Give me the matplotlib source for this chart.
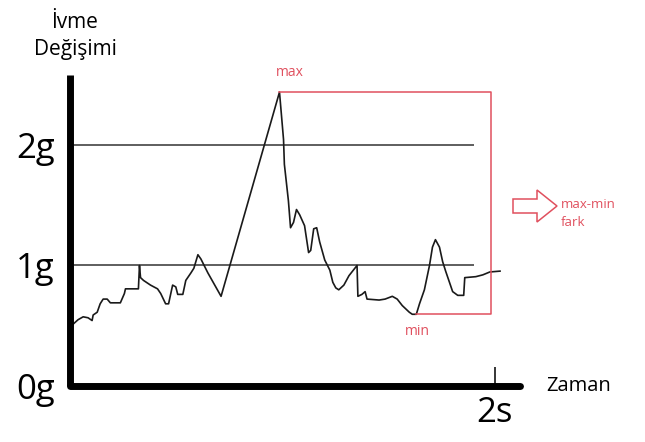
import matplotlib
matplotlib.use("Agg")
import matplotlib.pyplot as plt
from matplotlib.patches import Polygon
import numpy as np

plt.rcParams['font.family'] = ['Open Sans', 'DejaVu Sans']

# --- data (time in s, acceleration in g) ---
t = [0.009, 0.038, 0.062, 0.085, 0.104, 0.109, 0.128, 0.142, 0.156, 0.175,
     0.190, 0.237, 0.256, 0.261, 0.322, 0.327, 0.332, 0.346, 0.379, 0.412,
     0.427, 0.450, 0.464, 0.483, 0.498, 0.507, 0.531, 0.545, 0.569, 0.583,
     0.602, 0.616, 0.649, 0.711, 0.986, 1.005, 1.009, 1.028, 1.038, 1.052,
     1.066, 1.081, 1.104, 1.123, 1.133, 1.147, 1.161, 1.175, 1.199, 1.223,
     1.237, 1.251, 1.265, 1.289, 1.313, 1.351, 1.355, 1.374, 1.389, 1.398,
     1.455, 1.483, 1.517, 1.540, 1.564, 1.597, 1.611, 1.630, 1.645, 1.668,
     1.692, 1.706, 1.720, 1.739, 1.754, 1.768, 1.801, 1.825, 1.853, 1.858,
     1.910, 1.943, 1.976, 2.024]
g = [0.504, 0.550, 0.574, 0.566, 0.543, 0.589, 0.612, 0.682, 0.721, 0.721,
     0.690, 0.690, 0.767, 0.806, 0.806, 1.000, 0.899, 0.876, 0.837, 0.806,
     0.767, 0.682, 0.682, 0.837, 0.822, 0.760, 0.760, 0.876, 0.938, 0.977,
     1.089, 1.054, 0.938, 0.744, 2.438, 2.045, 1.839, 1.536, 1.313, 1.357,
     1.464, 1.420, 1.330, 1.107, 1.125, 1.304, 1.313, 1.196, 1.045, 0.961,
     0.860, 0.814, 0.798, 0.837, 0.915, 1.000, 0.744, 0.760, 0.783, 0.721,
     0.713, 0.721, 0.744, 0.721, 0.667, 0.612, 0.595, 0.595, 0.682, 0.798,
     1.000, 1.152, 1.214, 1.152, 1.031, 0.953, 0.783, 0.752, 0.752, 0.899,
     0.907, 0.922, 0.946, 0.953]
ref_levels = [1, 2]
ytick_vals = [0, 1, 2]
ytick_labels = ['0g', '1g', '2g']
xtick_vals = [2]
xtick_labels = ['2s']

W, H = 645, 442
fig = plt.figure(figsize=(W / 100, H / 100), dpi=100)
ax = fig.add_axes([70 / W, (H - 386) / H, 450 / W, 311 / H])

ax.set_xlim(0, 2.118)
ax.set_ylim(0, 2.58)

# reference lines
for lv in ref_levels:
    ax.plot([0, 1.90], [lv, lv], color='#333333', lw=1.1, solid_capstyle='butt')

# signal
ax.plot(t, g, color='#1a1a1a', lw=1.2, solid_joinstyle='round')

# max / min bracket (min taken after the peak)
red = '#e0505e'
imax = int(np.argmax(g))
gmax = g[imax]
after = g[imax:]
gmin = min(after)
imin = imax + max(i for i, v in enumerate(after) if v == gmin)
xr = 1.98
ax.plot([t[imax], xr, xr, t[imin]], [gmax, gmax, gmin, gmin], color=red, lw=1.1)
ax.text(1.033, 2.60, 'max', color=red, fontsize=10, ha='center', va='center', clip_on=False)
ax.text(1.635, 0.45, 'min', color=red, fontsize=10, ha='center', va='center')

# axes styling
for s in ['top', 'right']:
    ax.spines[s].set_visible(False)
for s in ['left', 'bottom']:
    ax.spines[s].set_linewidth(5)
    ax.spines[s].set_color('black')
ax.spines['bottom'].set_capstyle('round')
ax.spines['left'].set_capstyle('butt')

ax.set_yticks(ytick_vals)
ax.set_yticklabels(ytick_labels, fontsize=25)
ax.tick_params(axis='y', length=0, pad=11)
ax.set_xticks(xtick_vals)
ax.set_xticklabels(xtick_labels, fontsize=25)
ax.tick_params(axis='x', direction='in', length=14, width=1.1, pad=7)

ax.text(2.242, 0, 'Zaman', fontsize=14.5, ha='left', va='center', clip_on=False)

fig.text(75 / W, 1 - 36 / H, 'İvme\nDeğişimi', fontsize=15, ha='center', va='center',
         linespacing=1.35)

# arrow (hollow block arrow) in pixel-based inches
def px(x, y):
    return (x / 100, (H - y) / 100)
verts = [px(513, 199), px(537, 199), px(537, 190), px(557, 206), px(537, 222),
         px(537, 213), px(513, 213)]
arrow = Polygon(verts, closed=True, fill=False, edgecolor=red, lw=1.1,
                transform=fig.dpi_scale_trans)
fig.patches.append(arrow)
fig.text(561 / W, 1 - 213 / H, 'max-min\nfark', color=red, fontsize=9.5,
         ha='left', va='center', linespacing=1.5)

fig.savefig('out.png', dpi=100)
